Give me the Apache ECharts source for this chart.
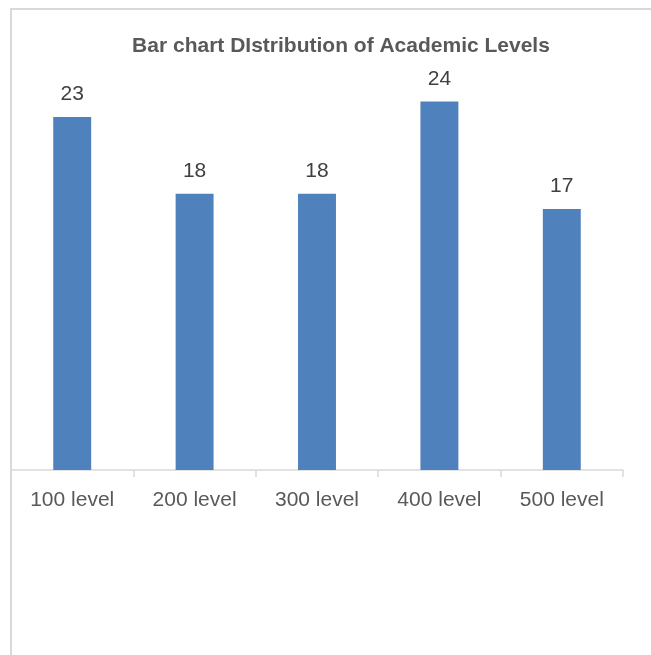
<!DOCTYPE html>
<html>
<head>
<meta charset="utf-8">
<title>Bar chart DIstribution of Academic Levels</title>
<script src="https://cdn.jsdelivr.net/npm/echarts@6/dist/echarts.min.js"></script>
<style>
  html, body { margin: 0; padding: 0; background: #fff; }
  #chart { width: 651px; height: 655px; }
</style>
</head>
<body>
<div id="chart"></div>
<script>
// data
var levels = ['100 level', '200 level', '300 level', '400 level', '500 level'];
var counts = [23, 18, 18, 24, 17];

var font = 'Liberation Sans, Arial, sans-serif';
var chart = echarts.init(document.getElementById('chart'));

chart.setOption({
  backgroundColor: '#fff',
  animation: false,
  title: {
    text: 'Bar chart DIstribution of Academic Levels',
    left: 336,
    textAlign: 'center',
    top: 31,
    textStyle: { fontFamily: font, fontSize: 21, fontWeight: 'bold', color: '#595959' }
  },
  // chart frame (only left/top edges are in view)
  graphic: [{
    type: 'polyline',
    silent: true,
    shape: { points: [[11, 655], [11, 9], [651, 9]] },
    style: { stroke: '#d9d9d9', lineWidth: 2, fill: null }
  }],
  grid: { left: 11, top: 9.5, width: 612, height: 460.5 },
  xAxis: {
    type: 'category',
    data: levels,
    axisLine: { lineStyle: { color: '#d9d9d9', width: 1.5 } },
    axisTick: { show: true, length: 7, lineStyle: { color: '#d9d9d9', width: 1.5 } },
    axisLabel: { fontFamily: font, fontSize: 21, color: '#595959', margin: 20 }
  },
  yAxis: {
    type: 'value',
    min: 0,
    max: 30,
    show: false,
    splitLine: { show: false }
  },
  series: [{
    type: 'bar',
    data: counts,
    barWidth: '31%',
    itemStyle: { color: '#4f81bd' },
    label: {
      show: true,
      position: 'top',
      distance: 12,
      fontFamily: font,
      fontSize: 21,
      color: '#404040'
    }
  }]
});
</script>
</body>
</html>
